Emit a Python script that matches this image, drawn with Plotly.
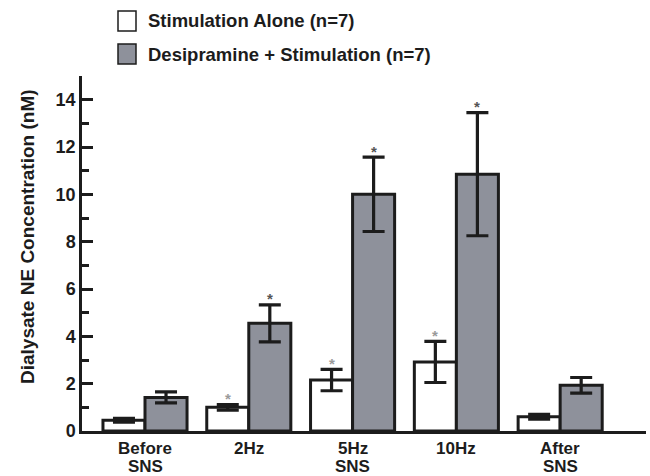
import plotly.graph_objects as go
import numpy as np

# --- data -------------------------------------------------------------
categories = ["Before<br>SNS", "2Hz", "5Hz<br>SNS", "10Hz", "After<br>SNS"]
series_names = ["Stimulation Alone (n=7)", "Desipramine + Stimulation (n=7)"]
stim_alone = [0.45, 1.0, 2.15, 2.92, 0.6]
stim_alone_err = [0.08, 0.12, 0.45, 0.87, 0.1]
desipramine = [1.42, 4.55, 10.0, 10.85, 1.93]
desipramine_err = [0.23, 0.78, 1.57, 2.6, 0.33]
# significance marks (1 = marked with an asterisk)
stim_alone_sig = [0, 1, 1, 1, 0]
desipramine_sig = [0, 1, 1, 1, 0]
y_ticks = [0, 2, 4, 6, 8, 10, 12, 14]
y_title = "Dialysate NE Concentration (nM)"

# --- geometry helpers (pixel -> paper) ---------------------------------
W, H = 650, 476
ML, MR, MT, MB = 82, 4, 76, 45
PW, PH = W - ML - MR, H - MT - MB


def px(x):
    return (x - ML) / PW


def py(y):
    return (H - MB - y) / PH


FONT = "Liberation Sans, Arial, sans-serif"
INK = "#1c1c1c"
GREY_FILL = "#8e919b"


def bold(size, color=INK):
    return dict(family=FONT, size=size, color=color, weight="bold")


x = np.arange(len(categories))

fig = go.Figure()
fig.add_trace(go.Bar(
    x=x, y=stim_alone, name=series_names[0],
    marker=dict(color="white", line=dict(color=INK, width=3)),
    error_y=dict(type="data", array=stim_alone_err, visible=True,
                 color=INK, thickness=3.2, width=11),
))
fig.add_trace(go.Bar(
    x=x, y=desipramine, name=series_names[1],
    marker=dict(color=GREY_FILL, line=dict(color=INK, width=3)),
    error_y=dict(type="data", array=desipramine_err, visible=True,
                 color=INK, thickness=3.2, width=11),
))

annotations = []

# asterisks above the error bars
bar_half = 0.2025
for i in range(len(categories)):
    if stim_alone_sig[i]:
        annotations.append(dict(
            x=x[i] - bar_half, y=stim_alone[i] + stim_alone_err[i],
            xref="x", yref="y", text="*", showarrow=False,
            yanchor="middle", yshift=6, font=bold(15, "#9a9a9a")))
    if desipramine_sig[i]:
        annotations.append(dict(
            x=x[i] + bar_half, y=desipramine[i] + desipramine_err[i],
            xref="x", yref="y", text="*", showarrow=False,
            yanchor="middle", yshift=6, font=bold(15, "#555555")))

# category labels under the axis, one annotation per text line
for i, lab in enumerate(categories):
    for j, line in enumerate(lab.split("<br>")):
        annotations.append(dict(
            x=x[i], y=0, xref="x", yref="paper", text=line,
            showarrow=False, yanchor="middle",
            yshift=-(17 + 18 * j),
            font=bold(17)))

# y-axis title
annotations.append(dict(
    x=px(28), y=py(237), xref="paper", yref="paper", text=y_title,
    textangle=-90, showarrow=False, xanchor="center", yanchor="middle",
    font=bold(19)))

# legend: boxes and labels
shapes = []
legend_rows = [(11, "white"), (44, GREY_FILL)]
for (top, fill), name in zip(legend_rows, series_names):
    shapes.append(dict(
        type="rect", xref="paper", yref="paper",
        x0=px(118), x1=px(136), y0=py(top + 20), y1=py(top),
        fillcolor=fill, line=dict(color=INK, width=1.5)))
    annotations.append(dict(
        x=px(146), y=py(top + 10), xref="paper", yref="paper", text=name,
        showarrow=False, xanchor="left", yanchor="middle",
        font=bold(18.5)))

fig.update_layout(
    width=W, height=H,
    margin=dict(l=ML, r=MR, t=MT, b=MB, pad=0),
    paper_bgcolor="white", plot_bgcolor="white",
    barmode="group", bargap=0.19, bargroupgap=0,
    showlegend=False,
    annotations=annotations, shapes=shapes,
    xaxis=dict(
        range=[-0.607, 4.827], showgrid=False, zeroline=False,
        showline=True, linecolor=INK, linewidth=2.5,
        showticklabels=False, ticks="",
    ),
    yaxis=dict(
        range=[0, 15], showgrid=False, zeroline=False,
        showline=True, linecolor=INK, linewidth=2.5,
        tickvals=y_ticks, ticks="inside", ticklen=11, tickwidth=2.5,
        tickcolor=INK, tickfont=bold(18),
        minor=dict(tickvals=[1, 3, 5, 7, 9, 11, 13, 15], ticks="inside",
                   ticklen=7, tickwidth=2.5, tickcolor=INK),
    ),
    font=dict(family=FONT, color=INK),
)

fig.write_html("out.html")
